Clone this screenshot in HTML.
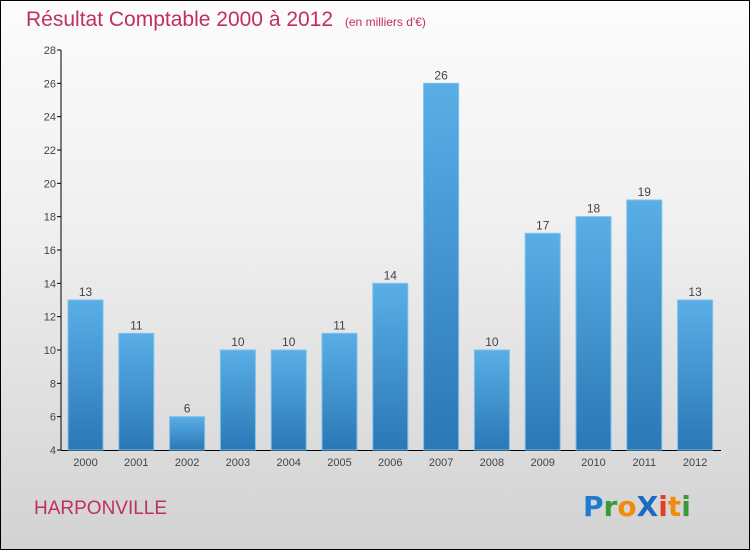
<!DOCTYPE html>
<html><head><meta charset="utf-8"><style>
body{margin:0}
#c{width:750px;height:550px;position:relative;box-sizing:border-box;border:1px solid #000;background:linear-gradient(#fcfcfc,#f0f0f0 40%,#d2d2d2);font-family:"Liberation Sans",sans-serif;overflow:hidden}
</style></head><body>
<div id="c">
<svg id="s" width="750" height="550" style="position:absolute;left:-1px;top:-1px">
<defs><linearGradient id="g" x1="0" y1="0" x2="0" y2="1"><stop offset="0" stop-color="#5aaee6"/><stop offset="1" stop-color="#2a78b6"/></linearGradient></defs>
<text x="26" y="26" font-size="21" fill="#c0305e">Résultat Comptable 2000 à 2012 <tspan font-size="12" dx="6">(en milliers d'€)</tspan></text>
<text x="34" y="514" font-size="19" fill="#c0305e">HARPONVILLE</text>
<g font-size="28" font-weight="bold" font-family="DejaVu Sans,sans-serif">
<text x="583" y="516"><tspan fill="#1e7bd0">P</tspan><tspan fill="#3a9a3a">r</tspan><tspan fill="#f08a10">o</tspan><tspan fill="#1e6ac0">X</tspan><tspan fill="#e04020">i</tspan><tspan fill="#f08a10">t</tspan><tspan fill="#3a9a3a">i</tspan></text></g>
<g id="plot"></g>
</svg>
</div>
<script>
const years=["2000","2001","2002","2003","2004","2005","2006","2007","2008","2009","2010","2011","2012"];
const values=[13,11,6,10,10,11,14,26,10,17,18,19,13];
const yTicks=[4,6,8,10,12,14,16,18,20,22,24,26,28];
const NS="http://www.w3.org/2000/svg";
const g=document.getElementById('plot');
const y=v=>450-(v-4)*(400/24);
const x=i=>85.5+i*50.8;
function el(t,a){const e=document.createElementNS(NS,t);for(const k in a)e.setAttribute(k,a[k]);g.appendChild(e);return e;}
const ya=el('line',{x1:61,y1:50,x2:61,y2:450,stroke:'#000'});


const xa=el('line',{x1:61,y1:450.5,x2:721,y2:450.5,stroke:'#000'});


yTicks.forEach(t=>{
 const l=el('line',{x1:57,x2:61,y1:y(t),y2:y(t),stroke:'#000'});
 
 
 const tx=el('text',{x:56,y:y(t)+4,'font-size':11,'text-anchor':'end',fill:'#444'});
 tx.textContent=t;
 
 
});
values.forEach((v,i)=>{
 const r=el('rect',{x:x(i)-17.5,y:y(v),width:35,height:450-y(v),fill:'url(#g)',stroke:'#7cc0ee','stroke-width':1});
 
 
 const vt=el('text',{x:x(i),y:y(v)-4,'font-size':12,'text-anchor':'middle',fill:'#444'});
 vt.textContent=v;
 
 
 const xt=el('text',{x:x(i),y:466,'font-size':11,'text-anchor':'middle',fill:'#444'});
 xt.textContent=years[i];
 
 
});
</script>
</body></html>
